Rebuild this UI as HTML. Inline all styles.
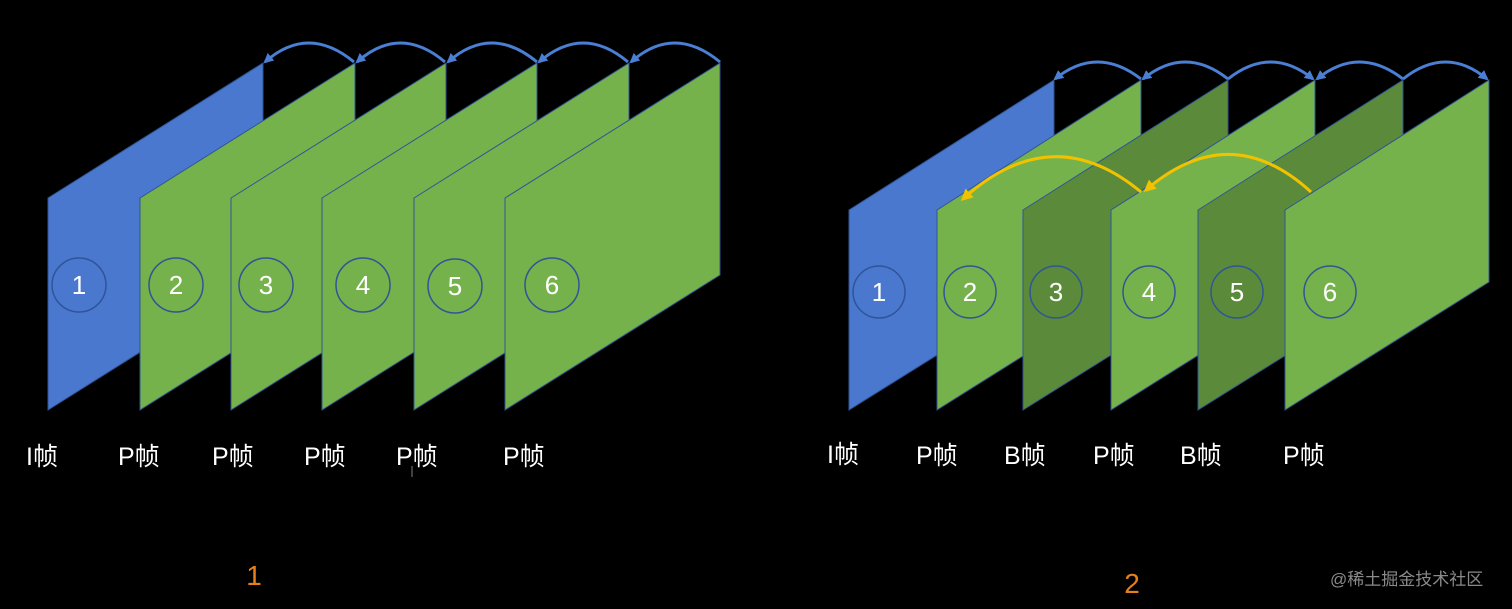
<!DOCTYPE html>
<html><head><meta charset="utf-8"><style>
html,body{margin:0;padding:0;background:#000;}
svg{display:block}
text{font-family:"Liberation Sans","Noto Sans CJK SC",sans-serif;}
</style></head><body>
<svg width="1512" height="609" viewBox="0 0 1512 609" xmlns="http://www.w3.org/2000/svg">
<defs>
<marker id="ab" markerWidth="10" markerHeight="10" refX="8" refY="5" orient="auto" markerUnits="userSpaceOnUse"><path d="M0,0 L10,5 L0,10 z" fill="#4a7fd4"/></marker>
<marker id="ay" markerWidth="12" markerHeight="12" refX="9" refY="6" orient="auto" markerUnits="userSpaceOnUse"><path d="M0,0 L12,6 L0,12 z" fill="#f2c200"/></marker>
</defs>
<rect width="1512" height="609" fill="#000"/>
<g stroke="#2f5597" stroke-width="1">
<!-- left diagram -->
<polygon points="48,198 263,63 263,275 48,410" fill="#4a78cf"/>
<polygon points="140,198 355,63 355,275 140,410" fill="#76b24b"/>
<polygon points="231,198 446,63 446,275 231,410" fill="#76b24b"/>
<polygon points="322,198 537,63 537,275 322,410" fill="#76b24b"/>
<polygon points="414,198 629,63 629,275 414,410" fill="#76b24b"/>
<polygon points="505,198 720,63 720,275 505,410" fill="#76b24b"/>
<!-- right diagram -->
<polygon points="849,210 1054,80 1054,282 849,410" fill="#4a78cf"/>
<polygon points="937,210 1141,80 1141,282 937,410" fill="#76b24b"/>
<polygon points="1023,210 1228,80 1228,282 1023,410" fill="#5b8b3a"/>
<polygon points="1111,210 1315,80 1315,282 1111,410" fill="#76b24b"/>
<polygon points="1198,210 1403,80 1403,282 1198,410" fill="#5b8b3a"/>
<polygon points="1285,210 1489,80 1489,282 1285,410" fill="#76b24b"/>
</g>
<g fill="none" stroke="#2f5597" stroke-width="1.5">
<circle cx="79" cy="285" r="27"/><circle cx="176" cy="285" r="27"/><circle cx="266" cy="285" r="27"/>
<circle cx="363" cy="285" r="27"/><circle cx="455" cy="286" r="27"/><circle cx="552" cy="285" r="27"/>
<circle cx="879" cy="292" r="26"/><circle cx="970" cy="292" r="26"/><circle cx="1056" cy="292" r="26"/>
<circle cx="1149" cy="292" r="26"/><circle cx="1237" cy="292" r="26"/><circle cx="1330" cy="292" r="26"/>
</g>
<g fill="#fff" font-size="26" text-anchor="middle">
<text x="79" y="294">1</text><text x="176" y="294">2</text><text x="266" y="294">3</text>
<text x="363" y="294">4</text><text x="455" y="295">5</text><text x="552" y="294">6</text>
<text x="879" y="301">1</text><text x="970" y="301">2</text><text x="1056" y="301">3</text>
<text x="1149" y="301">4</text><text x="1237" y="301">5</text><text x="1330" y="301">6</text>
</g>
<g fill="none" stroke="#4a7fd4" stroke-width="3">
<path d="M354,62 Q308,24 265,62" marker-end="url(#ab)"/>
<path d="M445,62 Q400,24 357,62" marker-end="url(#ab)"/>
<path d="M537,62 Q491,24 448,62" marker-end="url(#ab)"/>
<path d="M628,62 Q583,24 539,62" marker-end="url(#ab)"/>
<path d="M720,62 Q674,24 631,62" marker-end="url(#ab)"/>
<path d="M1141,79 Q1097,45 1055,79" marker-end="url(#ab)"/>
<path d="M1228,79 Q1185,45 1143,79" marker-end="url(#ab)"/>
<path d="M1228,79 Q1271,45 1313,79" marker-end="url(#ab)"/>
<path d="M1403,79 Q1359,45 1317,79" marker-end="url(#ab)"/>
<path d="M1403,79 Q1446,45 1487,79" marker-end="url(#ab)"/>
</g>
<g fill="none" stroke="#f2c200" stroke-width="3">
<path d="M1141,192 Q1052,118 963,199" marker-end="url(#ay)"/>
<path d="M1311,192 Q1230,118 1146,190" marker-end="url(#ay)"/>
</g>
<g fill="#fff" font-size="25">
<text x="26" y="465">I帧</text><text x="118" y="465">P帧</text><text x="212" y="465">P帧</text>
<text x="304" y="465">P帧</text><text x="396" y="465">P帧</text><text x="503" y="465">P帧</text>
<text x="827" y="463">I帧</text><text x="916" y="464">P帧</text><text x="1004" y="464">B帧</text>
<text x="1093" y="464">P帧</text><text x="1180" y="464">B帧</text><text x="1283" y="464">P帧</text>
</g>
<text x="412" y="477" font-size="16" fill="#555" text-anchor="middle">I</text>
<g fill="#e5801d" font-size="28" text-anchor="middle">
<text x="254" y="585">1</text><text x="1132" y="593">2</text>
</g>
<text x="1330" y="585" font-size="17" fill="#8a8a8a">@稀土掘金技术社区</text>
</svg>
</body></html>
